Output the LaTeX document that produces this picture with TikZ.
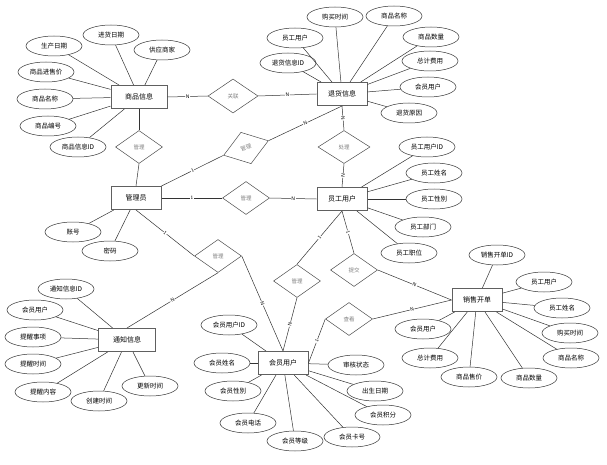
\documentclass[tikz,border=0pt]{standalone}
\usepackage{fontspec}
\newfontfamily\cjk{Noto Sans CJK SC}
\usetikzlibrary{shapes.geometric}
\begin{document}
\begin{tikzpicture}[x=1pt,y=-1pt,
 ent/.style={draw=gray!75!black, line width=1pt, minimum width=50pt, minimum height=23pt, inner sep=0pt, font=\cjk\fontsize{7}{8}\selectfont},
 attr/.style={ellipse, draw=black!80, line width=0.5pt, minimum width=56pt, minimum height=20pt, inner sep=0pt, font=\cjk\fontsize{6.5}{7}\selectfont},
 rel/.style={diamond, draw=black!70, line width=0.5pt, minimum width=47pt, minimum height=33pt, inner sep=0pt, text=gray, font=\cjk\fontsize{5.5}{6}\selectfont},
 card/.style={fill=white, inner sep=0.5pt, font=\sffamily\fontsize{5}{5}\selectfont},
 ln/.style={draw=black!80, line width=0.5pt}]
\useasboundingbox (0,0) rectangle (607,465);
% entities
\node[ent, minimum width=56pt] (sp) at (139,97) {商品信息};
\node[ent] (th) at (342,94) {退货信息};
\node[ent] (gly) at (136,198) {管理员};
\node[ent] (yg) at (342,199) {员工用户};
\node[ent] (xs) at (477,300) {销售开单};
\node[ent, minimum width=57pt] (tz) at (127,340) {通知信息};
\node[ent] (hy) at (283,363) {会员用户};
% relations
\node[rel, minimum width=50pt, minimum height=34pt] (r1) at (233,96) {关联};
\node[rel] (r2) at (139,147) {管理};
\node[rel, rotate=18] (r3) at (246,148) {管理};
\node[rel, minimum width=52pt] (r4) at (344,147) {处理};
\node[rel] (r5) at (246,198) {管理};
\node[rel] (r6) at (218,256) {管理};
\node[rel] (r7) at (297,281) {管理};
\node[rel] (r8) at (354,270) {提交};
\node[rel] (r9) at (349,319) {查看};
% attributes of 商品信息
\node[attr] (a1) at (54,46) {生产日期};
\node[attr] (a2) at (111,35) {进货日期};
\node[attr] (a3) at (162,50) {供应商家};
\node[attr] (a4) at (46,72) {商品进售价};
\node[attr] (a5) at (45,99) {商品名称};
\node[attr] (a6) at (48,126) {商品编号};
\node[attr] (a7) at (78,147) {商品信息ID};
\foreach \a in {a1,a2,a3,a4,a5,a6,a7} \draw[ln] (\a) -- (sp);
% attributes of 退货信息
\node[attr] (b1) at (295,38) {员工用户};
\node[attr] (b2) at (335,17) {购买时间};
\node[attr] (b3) at (394,16) {商品名称};
\node[attr] (b4) at (431,37) {商品数量};
\node[attr] (b5) at (430,61) {总计费用};
\node[attr] (b6) at (428,87) {会员用户};
\node[attr] (b7) at (409,113) {退货原因};
\node[attr] (b8) at (288,63) {退货信息ID};
\foreach \a in {b1,b2,b3,b4,b5,b6,b7,b8} \draw[ln] (\a) -- (th);
% attributes of 管理员
\node[attr] (c1) at (73,232) {账号};
\node[attr] (c2) at (110,251) {密码};
\foreach \a in {c1,c2} \draw[ln] (\a) -- (gly);
% attributes of 员工用户
\node[attr] (d1) at (427,147) {员工用户ID};
\node[attr] (d2) at (434,173) {员工姓名};
\node[attr] (d3) at (434,199) {员工性别};
\node[attr] (d4) at (423,227) {员工部门};
\node[attr] (d5) at (409,253) {员工职位};
\foreach \a in {d1,d2,d3,d4,d5} \draw[ln] (\a) -- (yg);
% attributes of 销售开单
\node[attr] (e1) at (497,255) {销售开单ID};
\node[attr] (e2) at (544,282) {员工用户};
\node[attr] (e3) at (562,308) {员工姓名};
\node[attr] (e4) at (570,333) {购买时间};
\node[attr] (e5) at (571,358) {商品名称};
\node[attr] (e6) at (529,378) {商品数量};
\node[attr] (e7) at (469,377) {商品售价};
\node[attr] (e8) at (430,358) {总计费用};
\node[attr] (e9) at (423,329) {会员用户};
\foreach \a in {e1,e2,e3,e4,e5,e6,e7,e8,e9} \draw[ln] (\a) -- (xs);
% attributes of 会员用户
\node[attr] (f1) at (229,325) {会员用户ID};
\node[attr] (f2) at (222,363) {会员姓名};
\node[attr] (f3) at (233,391) {会员性别};
\node[attr] (f4) at (248,423) {会员电话};
\node[attr] (f5) at (295,441) {会员等级};
\node[attr] (f6) at (352,437) {会员卡号};
\node[attr] (f7) at (383,415) {会员积分};
\node[attr] (f8) at (375,391) {出生日期};
\node[attr] (f9) at (356,365) {审核状态};
\foreach \a in {f1,f2,f3,f4,f5,f6,f7,f8,f9} \draw[ln] (\a) -- (hy);
% attributes of 通知信息
\node[attr] (g1) at (66,289) {通知信息ID};
\node[attr] (g2) at (35,310) {会员用户};
\node[attr] (g3) at (33,337) {提醒事项};
\node[attr] (g4) at (33,364) {提醒时间};
\node[attr] (g5) at (43,392) {提醒内容};
\node[attr] (g6) at (99,401) {创建时间};
\node[attr] (g7) at (150,386) {更新时间};
\foreach \a in {g1,g2,g3,g4,g5,g6,g7} \draw[ln] (\a) -- (tz);
% relationship connectors
\draw[ln] (sp.east) -- node[card,sloped]{N} (r1.west);
\draw[ln] (r1.east) -- node[card,sloped]{N} (th.west);
\draw[ln] (sp.south) -- (r2.north);
\draw[ln] (r2.south) -- (gly.north);
\draw[ln] (gly.north east) -- node[card,sloped]{1} (r3.west);
\draw[ln] (r3.east) -- node[card,sloped]{N} (th.south);
\draw[ln] (th.south) -- node[card,sloped]{N} (r4.north);
\draw[ln] (r4.south) -- node[card,sloped]{N} (yg.north);
\draw[ln] (gly.east) -- node[card]{1} (r5.west);
\draw[ln] (r5.east) -- node[card]{N} (yg.west);
\draw[ln] (gly.south) -- node[card,sloped]{1} (r6.west);
\draw[ln] (r6.south) -- node[card,sloped]{N} (tz.north);
\draw[ln] (r6.east) -- node[card,sloped]{N} (hy.north);
\draw[ln] (yg.south) -- node[card,sloped]{1} (r7.north);
\draw[ln] (r7.south) -- node[card,sloped]{N} (hy.north);
\draw[ln] (yg.south) -- node[card,sloped]{1} (r8.north);
\draw[ln] (r8.east) -- node[card,sloped]{N} (xs.west);
\draw[ln] (hy.east) -- node[card,sloped]{1} (r9.west);
\draw[ln] (r9.east) -- node[card,sloped]{N} (xs.west);
\end{tikzpicture}
\end{document}
